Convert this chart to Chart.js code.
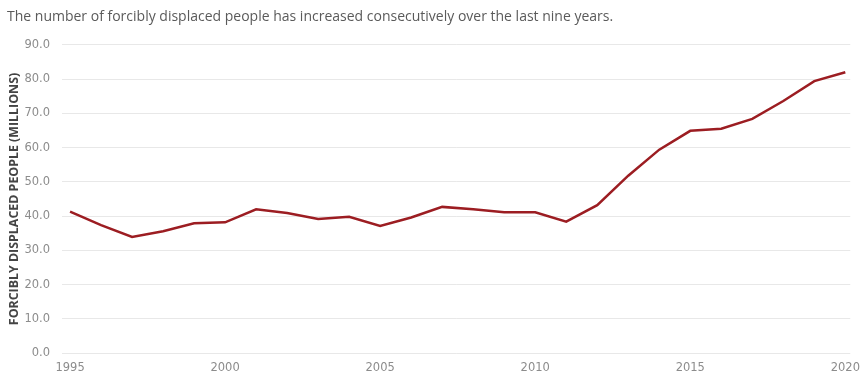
<!DOCTYPE html>
<html>
<head>
<meta charset="utf-8">
<script src="https://cdn.jsdelivr.net/npm/chart.js@4"></script>
<style>
  html, body { margin: 0; padding: 0; background: #fff; }
  #wrap { width: 860px; height: 375px; position: relative; }
</style>
</head>
<body>
<div id="wrap"><canvas id="chart"></canvas></div>
<script>
var years = [1995, 1996, 1997, 1998, 1999, 2000, 2001, 2002, 2003, 2004, 2005, 2006, 2007,
  2008, 2009, 2010, 2011, 2012, 2013, 2014, 2015, 2016, 2017, 2018, 2019, 2020];
var displaced = [41.3, 37.4, 33.9, 35.6, 37.9, 38.2, 42.0, 40.9, 39.2, 39.8, 37.1, 39.6, 42.7,
  42.0, 41.1, 41.1, 38.4, 43.2, 51.8, 59.4, 64.9, 65.5, 68.4, 73.6, 79.4, 82.0];
var xTicks = [1995, 2000, 2005, 2010, 2015, 2020];
var yTicks = [0, 10, 20, 30, 40, 50, 60, 70, 80, 90];

var points = years.map(function (y, i) {
  return { x: y, y: displaced[i] };
});

new Chart(document.getElementById('chart'), {
  type: 'line',
  data: {
    datasets: [{
      label: 'Forcibly displaced people',
      data: points,
      borderColor: '#9c1d22',
      borderWidth: 2.5,
      pointRadius: 0,
      tension: 0,
      fill: false
    }]
  },
  options: {
    responsive: true,
    maintainAspectRatio: false,
    animation: false,
    layout: { padding: { left: 7, right: 8, top: 7, bottom: 0 } },
    plugins: {
      legend: { display: false },
      tooltip: { enabled: false },
      title: {
        display: true,
        text: 'The number of forcibly displaced people has increased consecutively over the last nine years.',
        align: 'start',
        color: '#5a5a5a',
        font: { family: 'Open Sans', size: 14, weight: 'normal' },
        padding: { top: 2, bottom: 19 }
      }
    },
    scales: {
      x: {
        type: 'linear',
        min: 1994.74,
        max: 2020.16,
        afterBuildTicks: function (axis) {
          axis.ticks = xTicks.map(function (v) { return { value: v }; });
        },
        grid: { display: false },
        border: { display: false },
        ticks: {
          color: '#8c8c8c',
          font: { family: 'DejaVu Sans', size: 11.5 },
          padding: 0,
          maxRotation: 0,
          autoSkip: false,
          callback: function (v) { return String(v); }
        }
      },
      y: {
        min: 0,
        max: 90,
        afterBuildTicks: function (axis) {
          axis.ticks = yTicks.map(function (v) { return { value: v }; });
        },
        afterFit: function (axis) {
          axis.width = 55;
        },
        grid: { color: '#e8e8e8', lineWidth: 1, drawTicks: false },
        border: { display: false },
        ticks: {
          color: '#8c8c8c',
          font: { family: 'DejaVu Sans', size: 11.5 },
          padding: 12,
          callback: function (v) { return Number(v).toFixed(1); }
        },
        title: {
          display: true,
          text: 'FORCIBLY DISPLACED PEOPLE (MILLIONS)',
          color: '#444',
          font: { family: 'Open Sans', size: 12.4, weight: 'bold' },
          padding: { top: 0, bottom: 2 }
        }
      }
    }
  }
});
</script>
</body>
</html>
